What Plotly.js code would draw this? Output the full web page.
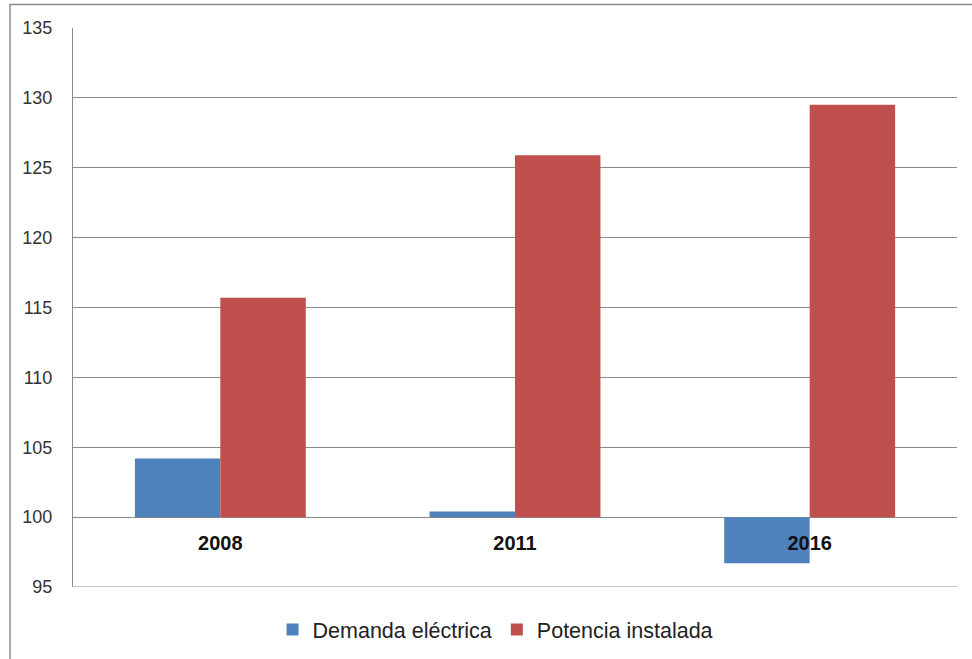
<!DOCTYPE html>
<html>
<head>
<meta charset="utf-8">
<script src="https://cdn.plot.ly/plotly-3.0.1.min.js"></script>
<style>
  html, body { margin: 0; padding: 0; background: #ffffff; }
  #chart { width: 972px; height: 659px; }
</style>
</head>
<body>
<div id="chart"></div>
<script>
// Index values (base 100) per year
const years = ['2008', '2011', '2016'];
const demandaElectrica = [104.2, 100.4, 96.7];
const potenciaInstalada = [115.7, 125.9, 129.5];
const baseValue = 100;

const seriesNames = ['Demanda eléctrica', 'Potencia instalada'];
const seriesColors = ['#4F81BD', '#C0504D'];

// Bars grow up or down from the base line at 100
function barTrace(name, values, color) {
  return {
    type: 'bar',
    name: name,
    x: years,
    y: values.map(v => v - baseValue),
    base: baseValue,
    marker: { color: color, line: { width: 0 } },
    hoverinfo: 'skip'
  };
}

const data = [
  barTrace(seriesNames[0], demandaElectrica, seriesColors[0]),
  barTrace(seriesNames[1], potenciaInstalada, seriesColors[1])
];

const yMin = 95, yMax = 135;
// Category axis sits on the 100 line
const axisPos = (baseValue - yMin) / (yMax - yMin);
const gridColor = '#8a8a8a';

const layout = {
  width: 972,
  height: 659,
  margin: { l: 73, r: 15, t: 28, b: 72, autoexpand: false },
  paper_bgcolor: '#ffffff',
  plot_bgcolor: '#ffffff',
  barmode: 'group',
  bargap: 0.42,
  bargroupgap: 0,
  showlegend: true,
  legend: {
    orientation: 'h',
    x: 0.478,
    xanchor: 'center',
    y: -0.076,
    yanchor: 'middle',
    font: { family: 'Liberation Sans, Arial, sans-serif', size: 21.5, color: '#222222' },
    itemwidth: 30,
    tracegroupgap: 0
  },
  xaxis: {
    type: 'category',
    anchor: 'free',
    position: axisPos,
    showgrid: false,
    zeroline: false,
    showline: false,
    ticks: '',
    tickfont: { family: 'Liberation Sans, Arial, sans-serif', size: 20, color: '#111111', weight: 'bold' },
    ticklabelstandoff: 12
  },
  yaxis: {
    range: [yMin, yMax],
    dtick: 5,
    tick0: 95,
    showgrid: true,
    gridcolor: gridColor,
    gridwidth: 1,
    zeroline: false,
    showline: true,
    linecolor: gridColor,
    linewidth: 1,
    ticks: '',
    ticklabelstandoff: 16,
    tickfont: { family: 'Liberation Sans, Arial, sans-serif', size: 18, color: '#333333' }
  },
  shapes: [
    // bottom gridline at the lower end of the value range
    {
      type: 'line',
      xref: 'paper', yref: 'y',
      x0: 0, x1: 1, y0: yMin, y1: yMin,
      line: { color: gridColor, width: 1 },
      layer: 'below'
    },
    // chart frame
    {
      type: 'rect',
      xref: 'paper', yref: 'paper',
      x0: -0.0713, x1: 1.05, y0: -0.2, y1: 1.042,
      line: { color: '#8c8c8c', width: 1.5 },
      fillcolor: 'rgba(0,0,0,0)',
      layer: 'below'
    }
  ]
};

Plotly.newPlot('chart', data, layout, { displayModeBar: false, staticPlot: true });
</script>
</body>
</html>
